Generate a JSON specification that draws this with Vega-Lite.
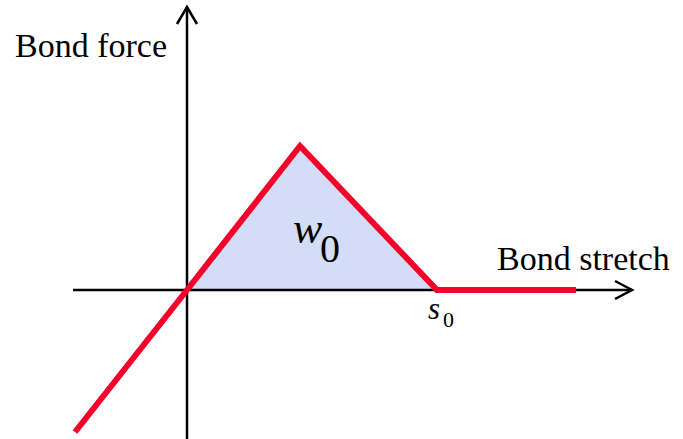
{
  "$schema": "https://vega.github.io/schema/vega-lite/v6.json",
  "width": 683,
  "height": 439,
  "padding": 0,
  "autosize": {"type": "none"},
  "config": {"view": {"stroke": null}},
  "datasets": {
    "area": [{"x": 0, "y": 0}, {"x": 113, "y": 144}, {"x": 250, "y": 0}],
    "axes": [
      {"g": "h", "o": 1, "x": -114, "y": 0}, {"g": "h", "o": 2, "x": 445, "y": 0},
      {"g": "v", "o": 1, "x": 0, "y": -150}, {"g": "v", "o": 2, "x": 0, "y": 283},
      {"g": "ha", "o": 1, "x": 428, "y": 9}, {"g": "ha", "o": 2, "x": 445, "y": 0}, {"g": "ha", "o": 3, "x": 428, "y": -9},
      {"g": "va", "o": 1, "x": -10, "y": 266}, {"g": "va", "o": 2, "x": 0, "y": 283}, {"g": "va", "o": 3, "x": 10, "y": 266}
    ],
    "force": [
      {"o": 1, "x": -112, "y": -142}, {"o": 2, "x": 0, "y": 0}, {"o": 3, "x": 113, "y": 144},
      {"o": 4, "x": 250, "y": 0}, {"o": 5, "x": 389, "y": 0}
    ],
    "labels": [
      {"t": "Bond force", "x": -172, "y": 233},
      {"t": "Bond stretch", "x": 310, "y": 20}
    ],
    "italic": [
      {"t": "w", "x": 106, "y": 47, "s": 44},
      {"t": "s", "x": 241, "y": -29, "s": 31}
    ],
    "subs": [
      {"t": "0", "x": 133, "y": 28, "s": 40},
      {"t": "0", "x": 256, "y": -37, "s": 22}
    ]
  },
  "encoding": {
    "x": {"field": "x", "type": "quantitative", "scale": {"domain": [-187, 496], "nice": false, "zero": false}, "axis": null},
    "y": {"field": "y", "type": "quantitative", "scale": {"domain": [-149, 290], "nice": false, "zero": false}, "axis": null}
  },
  "layer": [
    {"data": {"name": "area"}, "mark": {"type": "area", "color": "#d3ddf7", "opacity": 1}},
    {"data": {"name": "axes"}, "mark": {"type": "line", "color": "black", "strokeWidth": 2.5, "strokeJoin": "miter"},
     "encoding": {"detail": {"field": "g"}, "order": {"field": "o", "type": "quantitative"}}},
    {"data": {"name": "force"}, "mark": {"type": "line", "color": "#f3002b", "strokeWidth": 6, "strokeCap": "butt"},
     "encoding": {"order": {"field": "o", "type": "quantitative"}}},
    {"data": {"name": "labels"}, "mark": {"type": "text", "font": "Liberation Serif", "fontSize": 34, "align": "left", "baseline": "alphabetic", "color": "black"},
     "encoding": {"text": {"field": "t"}}},
    {"data": {"name": "italic"}, "mark": {"type": "text", "font": "Liberation Serif", "fontStyle": "italic", "align": "left", "baseline": "alphabetic", "color": "black"},
     "encoding": {"text": {"field": "t"}, "size": {"field": "s", "type": "quantitative", "scale": null}}},
    {"data": {"name": "subs"}, "mark": {"type": "text", "font": "Liberation Serif", "align": "left", "baseline": "alphabetic", "color": "black"},
     "encoding": {"text": {"field": "t"}, "size": {"field": "s", "type": "quantitative", "scale": null}}}
  ]
}
